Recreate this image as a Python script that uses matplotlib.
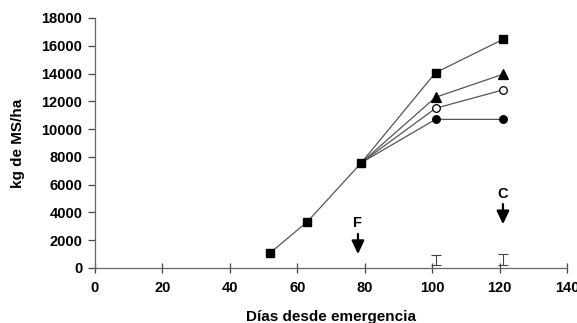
import matplotlib
matplotlib.use("Agg")
import matplotlib.pyplot as plt

plt.rcParams['font.family'] = ['Liberation Sans', 'DejaVu Sans']
plt.rcParams['font.weight'] = 'bold'

days = [52, 63, 79, 101, 121]
sq = [1100, 3330, 7580, 14060, 16460]
tri = [12290, 13950]
ocirc = [11500, 12820]
fcirc = [10700, 10700]

err_x = [101, 121]
err_lo = [250, 200]
err_hi = [900, 1000]

fig = plt.figure(figsize=(5.77, 3.23), dpi=100)
ax = fig.add_axes([0.1646, 0.1703, 0.8181, 0.7740])

lc = '#555555'
lw = 0.9
ax.plot(days, sq, color=lc, lw=lw, marker='s', ms=6.2, mfc='black', mec='black', zorder=3)
for vals, mk, ms, mfc in [(tri, '^', 6.5, 'black'), (ocirc, 'o', 5.5, 'white'), (fcirc, 'o', 5.5, 'black')]:
    xs = [days[2]] + days[3:]
    ys = [sq[2]] + vals
    ax.plot(xs, ys, color=lc, lw=lw, zorder=2)
    ax.plot(days[3:], vals, ls='none', marker=mk, ms=ms, mfc=mfc, mec='black', mew=0.9, zorder=4)

for x, lo, hi in zip(err_x, err_lo, err_hi):
    c = (lo + hi) / 2
    ax.errorbar([x], [c], yerr=[[c - lo], [hi - c]], fmt='none', ecolor='#444444', elinewidth=0.8, capsize=3.5, capthick=0.8)

# arrows
ax.annotate('', xy=(78, 800), xytext=(78, 2650),
            arrowprops=dict(arrowstyle='-|>,head_width=0.38,head_length=0.8', color='black', lw=1.6))
ax.text(78, 3250, 'F', ha='center', va='center', fontsize=10.5, fontweight='bold')
ax.annotate('', xy=(121, 2950), xytext=(121, 4800),
            arrowprops=dict(arrowstyle='-|>,head_width=0.38,head_length=0.8', color='black', lw=1.6))
ax.text(121, 5300, 'C', ha='center', va='center', fontsize=10.5, fontweight='bold')

ax.set_xlim(0, 140)
ax.set_ylim(0, 18000)
ax.set_xticks(range(0, 141, 20))
ax.set_yticks(range(0, 18001, 2000))
ax.spines['top'].set_visible(False)
ax.spines['right'].set_visible(False)
for s in ['left', 'bottom']:
    ax.spines[s].set_color('#666666')
    ax.spines[s].set_linewidth(0.9)
ax.tick_params(axis='x', direction='inout', length=7, width=0.9, color='#444444', labelsize=10.5, pad=6)
ax.tick_params(axis='y', direction='out', length=5, width=0.9, color='#444444', labelsize=10.5, pad=4)
for lab in ax.get_xticklabels() + ax.get_yticklabels():
    lab.set_fontweight('bold')

ax.set_xlabel('Días desde emergencia', fontsize=11, fontweight='bold', labelpad=11)
ax.set_ylabel('kg de MS/ha', fontsize=11, fontweight='bold', labelpad=12)

fig.savefig('out.png', dpi=100)
